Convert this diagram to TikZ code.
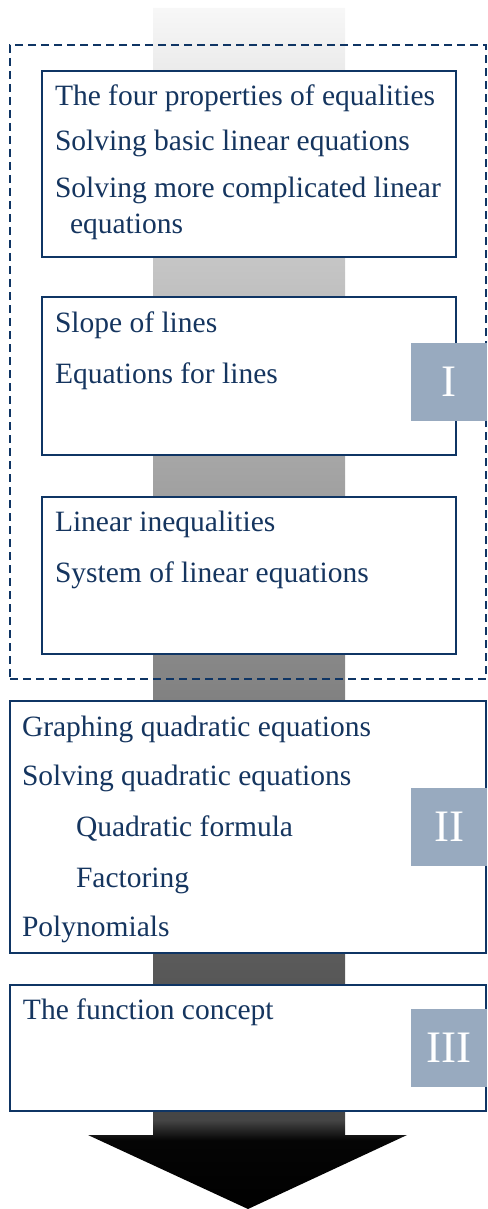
\documentclass[tikz,border=0pt]{standalone}
\usepackage{fontspec}
\setmainfont{Liberation Serif}
\definecolor{navytext}{HTML}{15355F}
\definecolor{navyline}{HTML}{0F3564}
\definecolor{labelfill}{HTML}{98AABF}
\pgfdeclareverticalshading{arrowshade}{100bp}{color(0bp)=(black); color(25bp)=(black); color(27.87bp)=(black!98); color(28.7bp)=(white!27!black); color(35.2bp)=(white!35!black); color(47.9bp)=(white!53!black); color(56.2bp)=(white!65!black); color(64.9bp)=(white!78!black); color(75bp)=(white!97!black); color(100bp)=(white!97!black)}
\tikzset{
  topicbox/.style={draw=navyline, line width=2.2pt, fill=white, inner sep=0pt, outer sep=0pt},
  groupbox/.style={draw=navyline, line width=2pt, dash pattern=on 8pt off 5pt, inner sep=0pt, outer sep=0pt},
  item/.style={anchor=base west, inner sep=0pt, outer sep=0pt, text=navytext, font=\fontsize{29.5}{35}\selectfont},
  tag/.style={fill=labelfill, text=white, inner sep=0pt, outer sep=0pt, minimum width=76pt, minimum height=78pt, font=\fontsize{45}{50}\selectfont}
}
\begin{document}
\begin{tikzpicture}[x=1pt,y=-1pt]
\useasboundingbox (0,0) rectangle (487,1209);
% background arrow
\shade[shading=arrowshade] (153,8) -- (345,8) -- (345,1135) -- (407,1135) -- (248,1209) -- (88,1135) -- (153,1135) -- cycle;
% group I dashed frame
\node[groupbox, minimum width=476pt, minimum height=634pt] (grp) at (248,362) {};
% boxes
\node[topicbox, minimum width=414pt, minimum height=186pt] (b1) at (249,164) {};
\node[topicbox, minimum width=414pt, minimum height=158pt] (b2) at (249,376) {};
\node[topicbox, minimum width=414pt, minimum height=157pt] (b3) at (249,575.5) {};
\node[topicbox, minimum width=476pt, minimum height=252pt] (b4) at (248,827) {};
\node[topicbox, minimum width=476pt, minimum height=126pt] (b5) at (248,1048) {};
% texts
\node[item] (t1) at (55,106) {The four properties of equalities};
\node[item] (t2) at (55,151) {Solving basic linear equations};
\node[item] (t3) at (55,197) {Solving more complicated linear};
\node[item] (t3b) at (70,233) {equations};
\node[item] (t4) at (55,332) {Slope of lines};
\node[item] (t5) at (55,383) {Equations for lines};
\node[item] (t6) at (55,531) {Linear inequalities};
\node[item] (t7) at (55,582) {System of linear equations};
\node[item] (t8) at (22,736) {Graphing quadratic equations};
\node[item] (t9) at (22,785) {Solving quadratic equations};
\node[item] (t10) at (76,836) {Quadratic formula};
\node[item] (t11) at (76,887) {Factoring};
\node[item] (t12) at (22,936) {Polynomials};
\node[item] (t13) at (23,1019) {The function concept};
% tags
\node[tag] (l1) at (449,382) {I};
\node[tag] (l2) at (449,827) {II};
\node[tag] (l3) at (449,1048) {III};
\end{tikzpicture}
\end{document}
